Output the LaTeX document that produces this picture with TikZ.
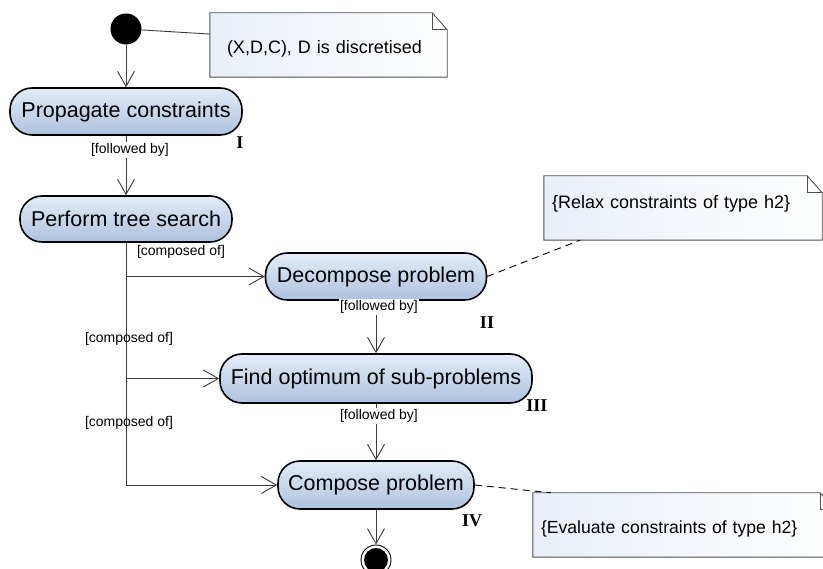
\documentclass[tikz,border=0pt]{standalone}
\usepackage{fontspec}
\setmainfont{Liberation Sans}
\newfontfamily\romanfont{Liberation Serif}
\usetikzlibrary{arrows.meta,calc,backgrounds}

\definecolor{actlight}{HTML}{E4ECF7}
\definecolor{actdark}{HTML}{ADC2DF}
\definecolor{linegray}{HTML}{3C3C3C}
\definecolor{notegray}{HTML}{505050}
\definecolor{notetint}{HTML}{E9EFF8}

\tikzset{
  activity/.style={draw=black, line width=1.6pt, rounded corners=22pt,
    top color=actlight, bottom color=actdark, minimum height=47pt,
    inner sep=0pt, font=\fontsize{21.5}{24}\selectfont},
  startdot/.style={circle, fill=black, minimum size=31pt, inner sep=0pt},
  enddot/.style={circle, draw=black, line width=0.9pt, fill=white,
    minimum size=30pt, inner sep=0pt,
    path picture={\fill[black] (path picture bounding box.center) circle (12pt);}},
  conn/.style={draw=linegray, line width=0.9pt,
    -{Straight Barb[length=15pt,width=17pt,line width=0.9pt]}},
  noteconn/.style={draw=linegray, line width=0.9pt},
  anchorline/.style={draw=black, line width=0.9pt, dash pattern=on 7pt off 5pt},
  guard/.style={font=\fontsize{14}{16}\selectfont, inner sep=1pt},
  stage/.style={font=\romanfont\bfseries\fontsize{18}{20}\selectfont, inner sep=0pt},
  notebox/.style={minimum height=64pt, inner sep=0pt, align=left,
    font=\fontsize{18}{21}\selectfont},
  noteline/.style={draw=notegray, line width=0.9pt},
}

% note outline with a folded top-right corner, drawn behind the note text
\newcommand\foldnote[1]{%
  \draw[noteline, left color=notetint, right color=white]
    (#1.south west) -- (#1.north west) -- ([xshift=-15pt]#1.north east)
    -- ([yshift=-17pt]#1.north east) -- (#1.south east) -- cycle;
  \draw[noteline] ([xshift=-15pt]#1.north east) |- ([yshift=-17pt]#1.north east);}

\begin{document}
\begin{tikzpicture}[x=1pt,y=1pt]
\useasboundingbox (0,0) rectangle (823,569);

% actions
\node[startdot] (init) at (126,540) {};
\node[activity, minimum width=232pt] (propagate) at (126,457.5) {Propagate constraints};
\node[activity, minimum width=212pt, minimum height=46pt] (perform) at (126,350) {Perform tree search};
\node[activity, minimum width=221pt] (decompose) at (376,292.5) {Decompose problem};
\node[activity, minimum width=312pt, minimum height=49pt] (find) at (376,190.5) {Find optimum of sub-problems};
\node[activity, minimum width=196pt, minimum height=48pt] (compose) at (376,84) {Compose problem};
\node[enddot] (final) at (376,9) {};

% notes
\node[notebox, minimum width=237pt, text width=203pt, text height=20.5pt, text depth=4pt]
  (note1) at (328.5,524) {(X,D,C), D is discretised};
\node[notebox, minimum width=278pt, text width=262pt, text height=13pt, text depth=12.5pt]
  (note2) at (683,361) {\{Relax constraints of type h2\}};
\node[notebox, minimum width=302pt, text width=286pt, text height=22pt, text depth=4pt,
  font=\fontsize{17.6}{21}\selectfont]
  (note3) at (684,44) {\{Evaluate constraints of type h2\}};

\begin{scope}[on background layer]
  \foldnote{note1}
  \foldnote{note2}
  \foldnote{note3}
\end{scope}

% control flow
\draw[conn] (init) -- (propagate.north);
\draw[conn] (propagate.south) -- (perform.north);
\draw[conn] (perform.south) |- (compose.west);
\draw[conn] (perform.south |- decompose.west) -- (decompose.west);
\draw[conn] (perform.south |- find.west) -- (find.west);
\draw[conn] (decompose.south) -- (find.north);
\draw[conn] (find.south) -- (compose.north);
\draw[conn] (compose.south) -- (final.north);

% note attachments
\draw[noteconn] (init) -- ($(note1.north west)!0.33!(note1.south west)$);
\draw[anchorline] (decompose.east) -- ($(note2.south west)!0.13!(note2.south east)$);
\draw[anchorline] (compose.east) -- ($(note3.north west)!0.06!(note3.north east)$);

% guards
\node[guard, fill=white] (fb1) at (130,419) {[followed by]};
\node[guard] (co1) at (181,317) {[composed of]};
\node[guard, fill=white] (fb2) at (379,262) {[followed by]};
\node[guard] (co2) at (129,230) {[composed of]};
\node[guard, fill=white] (fb3) at (379,153) {[followed by]};
\node[guard] (co3) at (129,146) {[composed of]};

% stage numbers
\node[stage] (s1) at (240,426) {I};
\node[stage] (s2) at (487,246) {II};
\node[stage] (s3) at (537,163) {III};
\node[stage] (s4) at (472,48) {IV};
\end{tikzpicture}
\end{document}
